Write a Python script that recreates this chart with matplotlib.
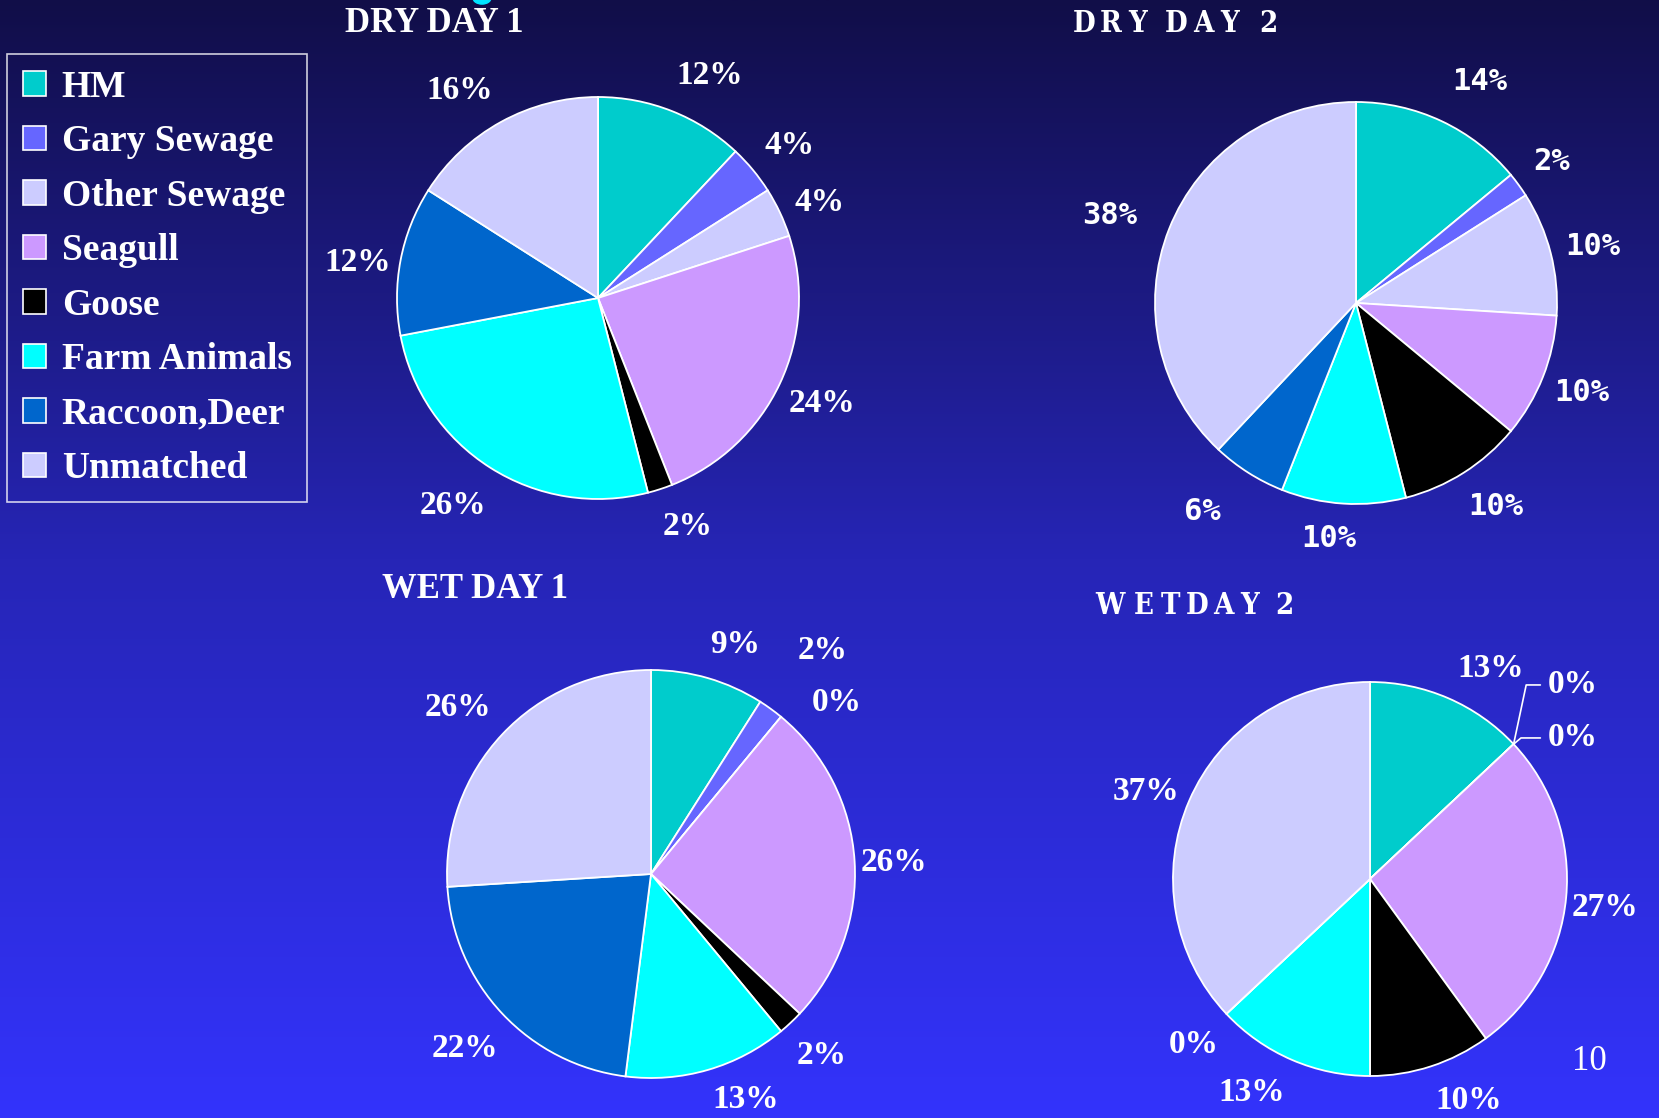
import numpy as np
import matplotlib

matplotlib.use("Agg")
import matplotlib.pyplot as plt
from matplotlib.patches import Patch, Circle

W, H = 1659, 1118

categories = ["HM", "Gary Sewage", "Other Sewage", "Seagull", "Goose",
              "Farm Animals", "Raccoon,Deer", "Unmatched"]
colors = ["#00CCCC", "#6666FF", "#CCCCFF", "#CC99FF", "#000000",
          "#00FFFF", "#0066CC", "#CCCCFF"]

dry_day1 = [12, 4, 4, 24, 2, 26, 12, 16]
dry_day2 = [14, 2, 10, 10, 10, 10, 6, 38]
wet_day1 = [9, 2, 0, 26, 2, 13, 22, 26]
wet_day2 = [13, 0, 0, 27, 10, 13, 0, 37]

SERIF = "Liberation Serif"
MONO_L = "DejaVu Sans Mono"

# label placement per slice: (distance in radii, angle nudge in degrees)
pos_dry1 = [(1.24, -5), (1.22, -1), (1.2, -2), (1.23, 0), (1.22, 3.5),
            (1.26, -2.5), (1.21, 2.5), (1.24, 5)]
pos_dry2 = [(1.26, -4), (1.2, 0), (1.21, -1), (1.21, 0), (1.23, 2),
            (1.18, -3), (1.29, -4), (1.3, 2)]
pos_wet1 = [(1.2, -4), (1.38, -1.5), (1.24, -7.7), (1.19, -1), (1.22, 0),
            (1.2, 6.5), (1.25, 0), (1.25, 2.5)]
pos_wet2 = [(1.23, -6.5), None, None, (1.2, -1.5), (1.23, 6),
            (1.24, -5.5), (1.23, 0), (1.22, 2)]


def spaced_title(fig, x0, y, text, pitch, gap, size):
    # letter-by-letter placement to mimic the wide tracking of the slide titles
    x = x0
    for ch in text:
        if ch == " ":
            x += gap
            continue
        fig.text(x / W, 1 - y / H, ch, color="white", fontsize=size,
                 family="DejaVu Serif", fontstretch="condensed", weight="bold",
                 ha="center", va="center")
        x += pitch


def draw_pie(fig, cx, cy, r, values, pos, font, size):
    ax = fig.add_axes([(cx - r) / W, 1 - (cy + r) / H, 2 * r / W, 2 * r / H])
    wedges, _ = ax.pie(values, colors=colors, startangle=90, counterclock=False,
                       wedgeprops=dict(edgecolor="white", linewidth=1.3))
    ax.set_xlim(-1, 1)
    ax.set_ylim(-1, 1)
    ax.set_aspect("equal")
    ax.axis("off")
    for w, v, p in zip(wedges, values, pos):
        if p is None:
            continue
        d, da = p
        t = np.deg2rad((w.theta1 + w.theta2) / 2 + da)
        ax.text(d * np.cos(t), d * np.sin(t), f"{v}%",
                color="white", fontsize=size, family=font, weight="bold",
                ha="center", va="center")
    return ax, wedges


fig = plt.figure(figsize=(W / 100, H / 100), dpi=100)

# background gradient
bg = fig.add_axes([0, 0, 1, 1], zorder=-10)
yy = np.linspace(0, 1, 400)[:, None]
top = np.array([17, 14, 72]) / 255
mid = np.array([38, 37, 182]) / 255
bot = np.array([51, 51, 252]) / 255
grad = np.where(yy < 0.5, top + (mid - top) * (yy / 0.5),
                mid + (bot - mid) * ((yy - 0.5) / 0.5))
img = np.repeat(grad[:, None, :], 2, axis=1)
bg.imshow(img, aspect="auto", extent=[0, 1, 0, 1], origin="upper")
bg.axis("off")
bg.add_patch(Circle((482 / W, 1 + 2 / H), 9 / W, color="#00E5FF",
                    transform=bg.transAxes, clip_on=True))

# DRY DAY 1
fig.text(434 / W, 1 - 23 / H, "DRY DAY 1", color="white", fontsize=25,
         family=SERIF, weight="bold", ha="center", va="center")
draw_pie(fig, 598, 298, 201, dry_day1, pos_dry1, SERIF, 24)

# DRY DAY 2
spaced_title(fig, 1084, 24, "DRY DAY 2", 27, 11, 21)
draw_pie(fig, 1356, 303, 201, dry_day2, pos_dry2, MONO_L, 22)

# WET DAY 1
fig.text(475 / W, 1 - 590 / H, "WET DAY 1", color="white", fontsize=25,
         family=SERIF, weight="bold", ha="center", va="center")
draw_pie(fig, 651, 874, 204, wet_day1, pos_wet1, SERIF, 24)

# WET DAY 2
spaced_title(fig, 1110, 606, "W ETDAY 2", 26.5, 7.5, 21)
ax4, w4 = draw_pie(fig, 1370, 879, 197, wet_day2, pos_wet2, SERIF, 24)
for i, (tx, ty, angB) in zip([1, 2], [(0.9, 0.985, 78), (0.9, 0.716, 40)]):
    w = w4[i]
    t = np.deg2rad(w.theta1)
    ax4.annotate(f"{wet_day2[i]}%", xy=(np.cos(t), np.sin(t)), xytext=(tx, ty),
                 color="white", fontsize=24, family=SERIF, weight="bold",
                 ha="left", va="center",
                 arrowprops=dict(arrowstyle="-", color="white", lw=1.2,
                                 relpos=(0, 0.5), shrinkA=3, shrinkB=0,
                                 connectionstyle=f"angle,angleA=0,angleB={angB},rad=0"))

# legend
handles = [Patch(facecolor=c, edgecolor="white", linewidth=1.2) for c in colors]
leg = fig.legend(handles, categories, loc="upper left",
                 bbox_to_anchor=(7 / W, 1 - 54 / H), borderaxespad=0,
                 prop=dict(family=SERIF, weight="bold", size=27),
                 labelcolor="white", frameon=True, fancybox=False,
                 handlelength=0.62, handleheight=0.62, handletextpad=0.42,
                 labelspacing=0.52, borderpad=0.42)
leg.get_frame().set_facecolor("none")
leg.get_frame().set_edgecolor("white")
leg.get_frame().set_linewidth(1.2)

# slide number
fig.text(1589 / W, 1 - 1062 / H, "10", color="white", fontsize=25,
         family=SERIF, ha="center", va="center")

fig.savefig("out.png", dpi=100)
